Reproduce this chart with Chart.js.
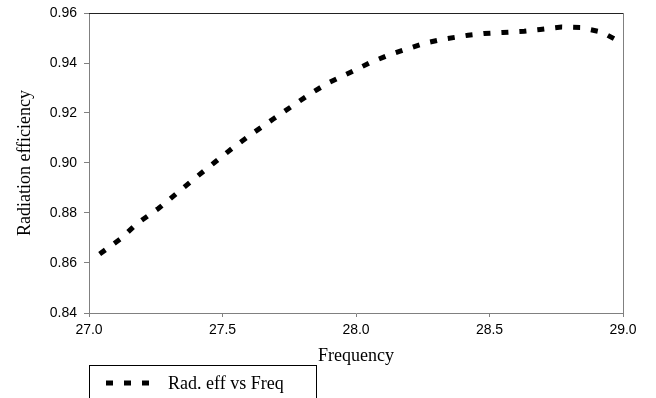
<!DOCTYPE html>
<html>
<head>
<meta charset="utf-8">
<script src="https://cdn.jsdelivr.net/npm/chart.js@4.4.0/dist/chart.umd.min.js"></script>
<style>
html, body { margin: 0; padding: 0; background: #fff; }
</style>
</head>
<body>
<canvas id="chart" width="656" height="398"></canvas>
<script>
// Values
const freq = [27.04, 27.12, 27.18, 27.26, 27.33, 27.40, 27.47, 27.54, 27.62, 27.69,
              27.76, 27.83, 27.90, 27.98, 28.05, 28.13, 28.19, 28.26, 28.33, 28.42,
              28.48, 28.55, 28.63, 28.69, 28.77, 28.84, 28.92, 29.00];
const radEff = [0.8636, 0.8698, 0.8758, 0.8818, 0.8880, 0.8942, 0.9002, 0.9062, 0.9124, 0.9176,
                0.9227, 0.9278, 0.9323, 0.9363, 0.9400, 0.9435, 0.9456, 0.9480, 0.9496, 0.9511,
                0.9518, 0.9522, 0.9527, 0.9534, 0.9544, 0.9542, 0.9524, 0.9478];
const seriesName = 'Rad. eff vs Freq';
const xTitle = 'Frequency';
const yTitle = 'Radiation efficiency';

const dash = [7, 11];
const tickFont = { family: '"Liberation Sans", Arial, sans-serif', size: 14 };
const titleFont = { family: '"Liberation Serif", "Times New Roman", serif', size: 18 };

// Top and right border of the plot area
const frame = {
    id: 'frame',
    afterDraw(chart) {
        const { ctx, chartArea: a } = chart;
        ctx.save();
        ctx.lineWidth = 1;
        ctx.strokeStyle = '#222';
        ctx.beginPath();
        ctx.moveTo(a.left, Math.round(a.top) + 0.5);
        ctx.lineTo(a.right, Math.round(a.top) + 0.5);
        ctx.stroke();
        ctx.strokeStyle = '#808080';
        ctx.beginPath();
        ctx.moveTo(Math.round(a.right) + 0.5, a.top);
        ctx.lineTo(Math.round(a.right) + 0.5, a.bottom);
        ctx.stroke();
        ctx.restore();
    }
};

// Boxed legend under the plot, cut off by the bottom edge
const boxLegend = {
    id: 'boxLegend',
    afterDraw(chart) {
        const ctx = chart.ctx;
        const left = Math.round(chart.chartArea.left) + 0.5;
        ctx.save();
        ctx.strokeStyle = '#000';
        ctx.lineWidth = 1;
        ctx.strokeRect(left, 365.5, 227, 50);
        ctx.lineWidth = 5;
        ctx.setLineDash(dash);
        ctx.beginPath();
        ctx.moveTo(106, 383);
        ctx.lineTo(152, 383);
        ctx.stroke();
        ctx.setLineDash([]);
        ctx.fillStyle = '#000';
        ctx.font = titleFont.size + 'px ' + titleFont.family;
        ctx.textBaseline = 'middle';
        ctx.fillText(seriesName, 168, 384);
        ctx.restore();
    }
};

new Chart(document.getElementById('chart'), {
    type: 'scatter',
    data: {
        datasets: [{
            label: seriesName,
            data: freq.map((f, i) => ({ x: f, y: radEff[i] })),
            showLine: true,
            borderColor: '#000',
            borderWidth: 5,
            borderDash: dash,
            borderCapStyle: 'butt',
            pointRadius: 0,
            tension: 0
        }]
    },
    options: {
        responsive: false,
        animation: false,
        layout: { padding: { left: 10, top: 13, right: 33, bottom: 27 } },
        plugins: {
            legend: { display: false },
            tooltip: { enabled: false }
        },
        scales: {
            x: {
                type: 'linear',
                min: 27,
                max: 29,
                afterFit: s => { s.height = 58; },
                border: { color: '#808080' },
                grid: { drawOnChartArea: false, tickLength: 4, color: '#808080' },
                ticks: {
                    stepSize: 0.5,
                    padding: 5,
                    color: '#000',
                    font: tickFont,
                    maxRotation: 0,
                    callback: v => v.toFixed(1)
                },
                title: { display: true, text: xTitle, color: '#000', font: titleFont }
            },
            y: {
                min: 0.84,
                max: 0.96,
                afterFit: s => { s.width = 79; s.paddingTop = 0; s.paddingBottom = 0; },
                border: { color: '#808080' },
                grid: { drawOnChartArea: false, tickLength: 5, color: '#808080' },
                ticks: {
                    stepSize: 0.02,
                    padding: 7,
                    color: '#000',
                    font: tickFont,
                    callback: v => v.toFixed(2)
                },
                title: { display: true, text: yTitle, color: '#000', font: titleFont }
            }
        }
    },
    plugins: [frame, boxLegend]
});
</script>
</body>
</html>
